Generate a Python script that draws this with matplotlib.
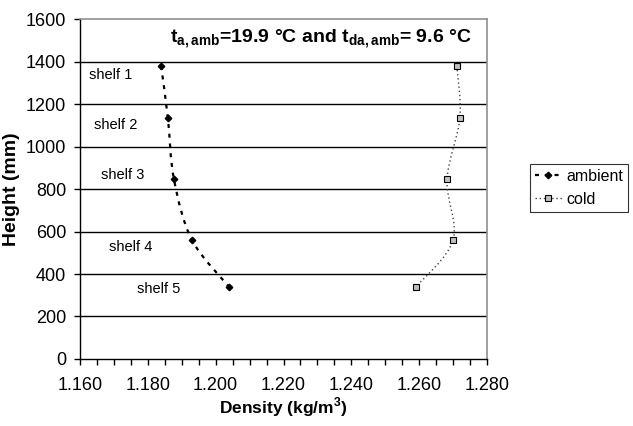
import numpy as np
import matplotlib
matplotlib.use("Agg")
import matplotlib.pyplot as plt
from matplotlib.path import Path
from matplotlib.patches import PathPatch
from matplotlib.lines import Line2D
from matplotlib.ticker import MultipleLocator, FormatStrFormatter

plt.rcParams['font.family'] = ['Liberation Sans', 'DejaVu Sans']
plt.rcParams['mathtext.fontset'] = 'custom'
plt.rcParams['mathtext.rm'] = 'Liberation Sans'
plt.rcParams['mathtext.bf'] = 'Liberation Sans:bold'

# data
heights = [1380, 1135, 845, 560, 340]
density_ambient = [1.1839, 1.1859, 1.1877, 1.1930, 1.2039]
density_cold = [1.2711, 1.2720, 1.2682, 1.2700, 1.2591]
shelf_labels = ["shelf 1", "shelf 2", "shelf 3", "shelf 4", "shelf 5"]
shelf_label_x = [1.1691, 1.1706, 1.1727, 1.1750, 1.1833]
shelf_label_y = [1336, 1101, 866, 527, 329]


def smooth_path(xs, ys):
    # Catmull-Rom style bezier through the points (like Excel "smoothed line")
    pts = np.column_stack([xs, ys])
    n = len(pts)
    verts = [pts[0]]
    codes = [Path.MOVETO]
    for i in range(n - 1):
        p0 = pts[i - 1] if i > 0 else pts[i]
        p1 = pts[i]
        p2 = pts[i + 1]
        p3 = pts[i + 2] if i + 2 < n else pts[i + 1]
        c1 = p1 + (p2 - p0) / 6.0
        c2 = p2 - (p3 - p1) / 6.0
        verts += [c1, c2, p2]
        codes += [Path.CURVE4] * 3
    return Path(verts, codes)


fig = plt.figure(figsize=(6.33, 4.26), dpi=100)
ax = fig.add_axes([0.1264, 0.1573, 0.643, 0.798])

ax.set_xlim(1.160, 1.280)
ax.set_ylim(0, 1600)

for yy in range(200, 1600, 200):
    ax.axhline(yy, color='black', lw=1.0, zorder=1)

amb_style = dict(color='black', lw=1.6, linestyle=(0, (1.8, 2.6)))
cold_style = dict(color='#444444', lw=1.0, linestyle=(0, (1, 2)))

ax.add_patch(PathPatch(smooth_path(density_ambient, heights), facecolor='none',
                       edgecolor=amb_style['color'], lw=amb_style['lw'],
                       linestyle=amb_style['linestyle'], zorder=3))
ax.add_patch(PathPatch(smooth_path(density_cold, heights), facecolor='none',
                       edgecolor=cold_style['color'], lw=cold_style['lw'],
                       linestyle=cold_style['linestyle'], zorder=3))

ax.plot(density_ambient, heights, linestyle='none', marker='D', ms=3.3,
        color='black', zorder=4)
ax.plot(density_cold, heights, linestyle='none', marker='s', ms=4,
        markerfacecolor='#c0c0c0', markeredgecolor='black', mew=0.8, zorder=4)

for lab, lx, ly in zip(shelf_labels, shelf_label_x, shelf_label_y):
    ax.text(lx, ly, lab, fontsize=10.5, ha='center', va='center')

ax.text(0.592, 0.929, r"t$_{\mathbf{a,amb}}$=19.9 °C and t$_{\mathbf{da,amb}}$= 9.6 °C",
        transform=ax.transAxes, ha='center', va='baseline', fontsize=14,
        fontweight='bold')

ax.xaxis.set_major_locator(MultipleLocator(0.02))
ax.xaxis.set_minor_locator(MultipleLocator(0.005))
ax.xaxis.set_major_formatter(FormatStrFormatter('%.3f'))
ax.yaxis.set_major_locator(MultipleLocator(200))
ax.tick_params(axis='both', which='both', direction='out', length=4, width=1,
               labelsize=13, color='black')
ax.tick_params(axis='y', pad=6)
ax.tick_params(axis='x', pad=9)

for side in ['left', 'bottom']:
    ax.spines[side].set_color('black')
    ax.spines[side].set_linewidth(1.0)
for side in ['top', 'right']:
    ax.spines[side].set_color('#909090')
    ax.spines[side].set_linewidth(1.2)

ax.set_xlabel(r"Density (kg/m$^{\mathbf{3}}$)", fontsize=12.5, fontweight='bold', labelpad=1)
ax.set_ylabel("Height (mm)", fontsize=14, fontweight='bold', labelpad=4)

handles = [
    Line2D([], [], marker='D', ms=3.3, color='black', lw=1.6, linestyle=(0, (1.8, 2.6))),
    Line2D([], [], marker='s', ms=4, color='#444444', lw=1.0, linestyle=(0, (1, 2)),
           markerfacecolor='#c0c0c0', markeredgecolor='black', mew=0.8),
]
leg = fig.legend(handles, ["ambient", "cold"], loc='center left',
                 bbox_to_anchor=(0.837, 0.559), fontsize=11.5, frameon=True,
                 fancybox=False, edgecolor='black', handlelength=1.7,
                 handletextpad=0.3, borderpad=0.3, labelspacing=0.5,
                 borderaxespad=0)
leg.get_frame().set_linewidth(0.8)

fig.savefig("out.png", dpi=100)
